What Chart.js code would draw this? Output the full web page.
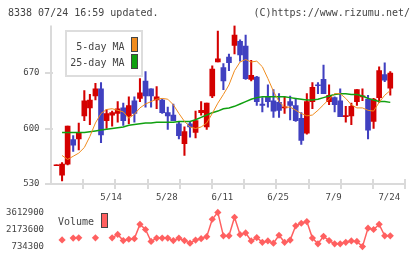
<!DOCTYPE html>
<html><head><meta charset="utf-8">
<script src="https://cdn.jsdelivr.net/npm/chart.js@4"></script>
<style>
html,body{margin:0;padding:0;background:#fff;}
body{width:420px;height:259px;position:relative;overflow:hidden;font-family:"DejaVu Sans Mono",monospace;color:#444;}
.t{position:absolute;font-size:10px;line-height:10px;white-space:pre;}
canvas{position:absolute;left:0;}
#c1{top:0;}
#c2{top:200px;}
.leg{position:absolute;left:65px;top:30px;width:74px;height:43px;border:2px solid #dddddd;background:#fff;}
.sw{position:absolute;width:5px;height:13px;border:1px solid #444;}
</style>
</head><body>
<canvas id="c1" width="420" height="205"></canvas>
<canvas id="c2" width="420" height="59"></canvas>
<div class="t" style="left:8px;top:7.5px;">8338 07/24 16:59 updated.</div>
<div class="t" style="left:200px;width:210px;text-align:right;top:7.5px;">(C)https://www.rizumu.net/</div>
<div class="leg"></div>
<div class="t" style="left:60px;width:64.5px;text-align:right;top:41.5px;">5-day MA</div>
<div class="sw" style="left:131px;top:37px;background:#f08c1e;"></div>
<div class="t" style="left:60px;width:64.5px;text-align:right;top:57.5px;">25-day MA</div>
<div class="sw" style="left:131px;top:54px;background:#10a010;"></div>
<div class="t" style="left:58px;top:216.5px;">Volume</div>
<div class="sw" style="left:101px;top:213px;background:#ff6060;"></div>
<script>
// ---- data ----
const dates = ['4/25','4/26','4/27','5/1','5/2','5/7','5/8','5/9','5/10','5/11',
  '5/14','5/15','5/16','5/17','5/18','5/21','5/22','5/23','5/24','5/25',
  '5/28','5/29','5/30','5/31','6/1','6/4','6/5','6/6','6/7','6/8',
  '6/11','6/12','6/13','6/14','6/15','6/18','6/19','6/20','6/21','6/22',
  '6/25','6/26','6/27','6/28','6/29','7/2','7/3','7/4','7/5','7/6',
  '7/9','7/10','7/11','7/12','7/13','7/17','7/18','7/19','7/20','7/23','7/24'];
const labelDates = ['5/14','5/28','6/11','6/25','7/9','7/24'];
const open  = [553,541,555,586,587,616,626,641,650,610, 617,619,626,616,635,638,660,650,636,636,
               620,617,606,581,606,595,620,602,641,684, 677,690,705,710,704,662,665,631,640,635,
               633,626,634,629,613,594,634,655,662,634, 639,635,615,616,634,640,637,609,639,668,651];
const high  = [553,557,603,591,607,648,643,657,658,624, 622,634,632,640,640,663,672,650,653,637,
               627,631,608,602,609,622,634,632,679,723, 682,694,730,712,718,686,666,639,655,649,
               644,640,641,637,620,644,658,658,680,655, 640,650,628,632,649,650,642,638,678,683,672];
const low   = [553,534,554,571,573,610,605,636,582,600, 603,608,604,606,608,634,627,627,625,619,
               599,610,587,566,589,588,617,599,639,684, 649,673,694,685,662,660,629,621,627,614,
               614,619,611,609,580,593,625,644,644,630, 621,615,608,605,629,635,587,600,633,659,642];
const close = [553,555,603,579,595,635,636,650,592,619, 620,625,610,629,619,645,641,641,640,620,
               616,610,591,596,602,610,623,632,675,688, 660,683,718,693,663,667,634,629,634,622,
               623,627,629,610,585,634,652,654,644,642, 630,615,616,628,649,641,598,637,673,661,670];
const ma5   = [null,566,561,565,569,576,590,607,619,624, 625,623,621,613,618,626,631,634,637,638,
               637,630,619,609,602,600,602,607,619,632, 643,655,673,684,687,684,685,678,663,647,
               634,627,627,623,619,616,617,623,630,637, 644,644,638,630,626,626,623,622,633,642,648];
const ma25  = [null,595,595,595,595,595,596,597,598,599, 600,601,602,604,605,606,607,607,608,608,
               608,608,609,609,609,611,614,617,620,622, 625,626,628,631,634,637,639,640,640,640,
               640,640,639,638,637,636,636,637,639,641, 643,644,644,643,643,641,638,636,634,634,633];
const volume = [null,1295000,null,1450000,1475000,null,null,1475000,null,null,
               1475000,1763000,1238000,1353000,1404000,2605000,2174000,1166000,1454000,1454000,
               1454000,1238000,1454000,1238000,1022000,1281000,1404000,1569000,3037000,3612900,
               1641000,1641000,3203000,1742000,1886000,1209000,1497000,1094000,1209000,1022000,
               1691000,1094000,1281000,2483000,2699000,2843000,1454000,972000,1598000,1238000,
               972000,972000,1094000,1209000,1166000,734300,2289000,2174000,2605000,1641000,1641000];
const priceTicks  = [530,600,670];
const volumeTicks = [734300,2173600,3612900];

// ---- styling / layout ----
const FONT = '"DejaVu Sans Mono", monospace';
const RED = '#d40000', BLUE = '#4040c0';
const X_MIN = -0.99, X_MAX = 62.7;
const idx = dates.map((d,i)=>i);
const labelIdx = labelDates.map(d=>dates.indexOf(d));
const candleColor = (i)=> close[i] >= open[i] ? RED : BLUE;

const axisDeco = {
  id:'axisDeco',
  beforeDatasetsDraw(chart){
    const {ctx, chartArea:a, scales:{x,y}} = chart;
    ctx.save();
    ctx.strokeStyle = '#dadada';
    ctx.lineWidth = 2;
    ctx.beginPath();
    ctx.moveTo(a.left, a.top); ctx.lineTo(a.left, a.bottom); ctx.lineTo(a.right, a.bottom);
    for (let k=1;k<=11;k++){
      const px = Math.round(x.getPixelForValue(x.min + k*(x.max-x.min)/11));
      ctx.moveTo(px, a.bottom-5); ctx.lineTo(px, a.bottom+5);
    }
    priceTicks.forEach(v=>{
      const py = Math.round(y.getPixelForValue(v));
      ctx.moveTo(a.left-6, py); ctx.lineTo(a.left+2, py);
    });
    ctx.stroke();
    ctx.restore();
  }
};

new Chart(document.getElementById('c1'), {
  type:'bar',
  data:{ datasets:[
    {type:'line', label:'5-day MA', data: ma5.map((v,i)=>({x:i,y:v})), borderColor:'#f08c1e', borderWidth:1, pointRadius:0, order:0},
    {type:'line', label:'25-day MA', data: ma25.map((v,i)=>({x:i,y:v})), borderColor:'#10a010', borderWidth:1.5, pointRadius:0, order:0},
    {label:'wick', data: idx.map(i=>({x:i, y:[low[i], high[i]]})), backgroundColor:(c)=>candleColor(c.dataIndex), barThickness:1.4, grouped:false, minBarLength:1, order:2},
    {label:'body', data: idx.map(i=>({x:i, y:[open[i], close[i]]})), backgroundColor:(c)=>candleColor(c.dataIndex), barThickness:5, grouped:false, minBarLength:1, order:1}
  ]},
  options:{
    responsive:false, animation:false, events:[],
    plugins:{legend:{display:false}, tooltip:{enabled:false}},
    layout:{padding:{top:25.5, right:14.7, left:0, bottom:0}},
    scales:{
      x:{type:'linear', min:X_MIN, max:X_MAX, offset:false,
         grid:{display:false, drawTicks:false}, border:{display:false},
         afterFit(s){ s.height = 21; },
         afterBuildTicks(s){ s.ticks = labelIdx.map(v=>({value:v})); },
         ticks:{autoSkip:false, maxRotation:0, padding:8.6, labelOffset:-1, color:'#444', font:{family:FONT, size:9},
                callback:(v)=>dates[v]}},
      y:{min:530, max:730,
         grid:{display:false, drawTicks:false}, border:{display:false},
         afterFit(s){ s.width = 51; },
         afterBuildTicks(s){ s.ticks = priceTicks.map(v=>({value:v})); },
         ticks:{padding:11.5, color:'#444', font:{family:FONT, size:9}, callback:(v)=>String(v)}}
    }
  },
  plugins:[axisDeco]
});

new Chart(document.getElementById('c2'), {
  type:'line',
  data:{ datasets:[
    {label:'Volume', data: volume.map((v,i)=>({x:i,y:v})), borderColor:'#ff6060', backgroundColor:'#ff6060',
     borderWidth:1.5, pointStyle:'rectRot', pointRadius:3.6, pointBorderWidth:0, pointBackgroundColor:'#ff6060',
     spanGaps:false, clip:false}
  ]},
  options:{
    responsive:false, animation:false, events:[],
    plugins:{legend:{display:false}, tooltip:{enabled:false}},
    layout:{padding:{top:9.3, right:14.7, left:0, bottom:9.7}},
    scales:{
      x:{type:'linear', min:X_MIN, max:X_MAX, offset:false, display:false},
      y:{min:734300, max:3612900,
         grid:{display:false, drawTicks:false}, border:{display:false},
         afterFit(s){ s.width = 51; },
         afterBuildTicks(s){ s.ticks = volumeTicks.map(v=>({value:v})); },
         ticks:{padding:7, color:'#444', font:{family:FONT, size:9}, callback:(v)=>String(v)}}
    }
  }
});
</script>
</body></html>
